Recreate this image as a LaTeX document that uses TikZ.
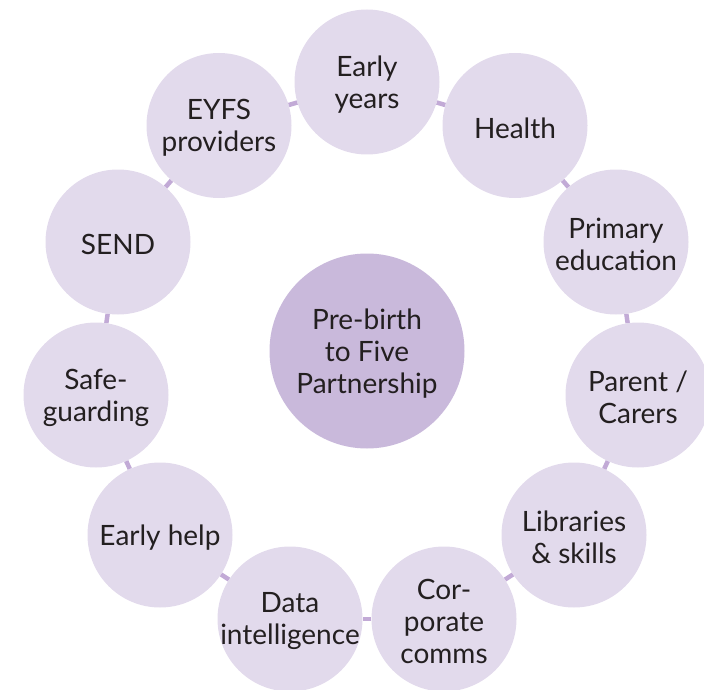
\documentclass[tikz,border=0pt]{standalone}
\usepackage{fontspec}
\setmainfont{Lato}
\definecolor{outerfill}{HTML}{E2DAEC}
\definecolor{hubfill}{HTML}{C9B9DB}
\definecolor{linkcol}{HTML}{C2AAD6}
\definecolor{textcol}{HTML}{231F20}
\begin{document}
\begin{tikzpicture}[x=1pt,y=-1pt,
  txt/.style={align=center, inner sep=0pt, yshift=-2.5pt,
    font=\fontsize{28}{32}\selectfont, text=textcol},
  outer/.style={circle, fill=outerfill, minimum size=145pt, inner sep=0pt},
  hub/.style={circle, fill=hubfill, minimum size=195pt, inner sep=0pt},
  link/.style={draw=linkcol, line width=4.5pt}]
\useasboundingbox (0,0) rectangle (704,690);
\node[hub, label={[txt]center:Pre-birth\\to Five\\Partnership}] (hub) at (367,351) {};
\node[outer, label={[txt]center:Early\\years}] (n0) at (367,82) {};
\node[outer, label={[txt]center:Health}] (n1) at (515,125.5) {};
\node[outer, label={[txt]center:Primary\\education}] (n2) at (616,242) {};
\node[outer, label={[txt]center:Parent /\\Carers}] (n3) at (638,395) {};
\node[outer, label={[txt]center:Libraries\\\& skills}] (n4) at (574,535) {};
\node[outer, label={[txt]center:Cor-\\porate\\comms}] (n5) at (444,619) {};
\node[outer, label={[txt]center:Data\\intelligence}] (n6) at (290,619) {};
\node[outer, label={[txt]center:Early help}] (n7) at (160,535) {};
\node[outer, label={[txt]center:Safe-\\guarding}] (n8) at (96,395) {};
\node[outer, label={[txt]center:SEND}] (n9) at (118,242) {};
\node[outer, label={[txt]center:EYFS\\providers}] (n10) at (219,125.5) {};
\foreach \a/\b in {n0/n1,n1/n2,n2/n3,n3/n4,n4/n5,n5/n6,n6/n7,n7/n8,n8/n9,n9/n10,n10/n0}
  \draw[link] (\a) -- (\b);
\end{tikzpicture}
\end{document}
